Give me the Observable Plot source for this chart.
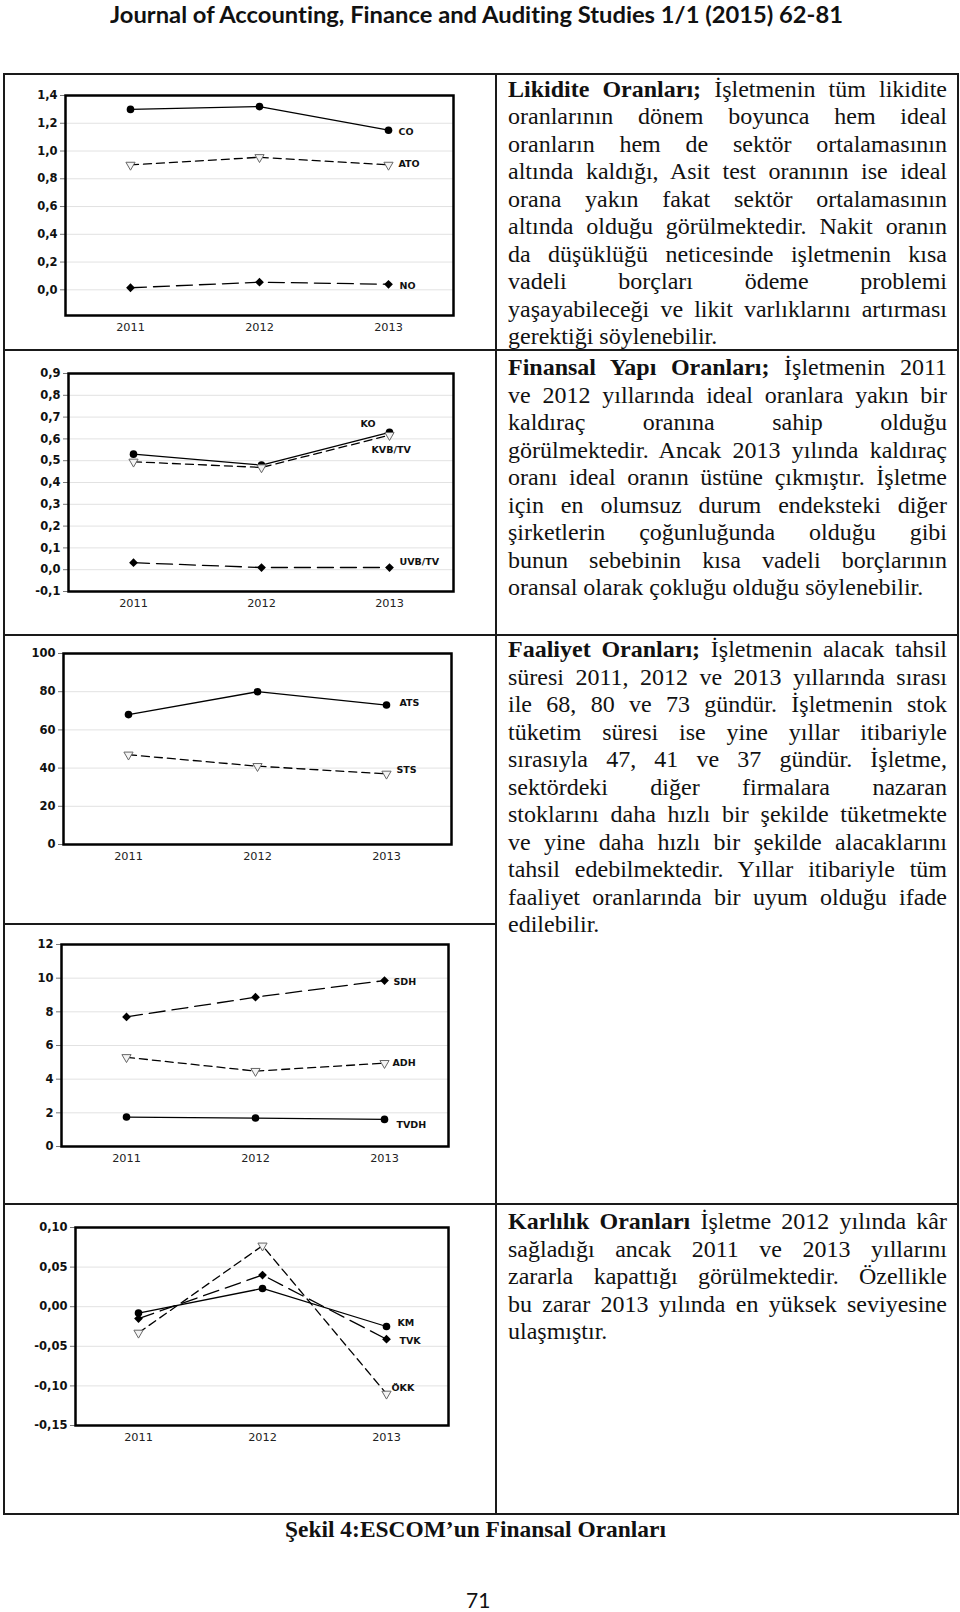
<!DOCTYPE html>
<html><head><meta charset="utf-8">
<script src="https://cdn.jsdelivr.net/npm/d3@7"></script>
<script src="https://cdn.jsdelivr.net/npm/@observablehq/plot@0.6"></script>
<style>
html,body{margin:0;padding:0;background:#fff;}
#page{position:relative;width:960px;height:1612px;overflow:hidden;background:#fff;}
.hl{position:absolute;height:2px;background:#1a1a1a;}
.vl{position:absolute;width:2px;background:#1a1a1a;}
.ln{position:absolute;left:508px;height:27.5px;line-height:27.5px;font-family:"Liberation Serif",serif;font-size:24px;white-space:nowrap;color:#111;}
.fit{display:inline-block;transform-origin:0 50%;white-space:nowrap;font-variant-ligatures:none;}
.chart{position:absolute;left:5px;}
.abs{position:absolute;white-space:nowrap;}
</style></head><body><div id="page"></div>
<script>
// ---------- DATA ----------
const years = ["2011", "2012", "2013"];
// Likidite oranları
const CO  = [1.30, 1.32, 1.15];
const ATO = [0.90, 0.955, 0.90];
const NO  = [0.015, 0.055, 0.04];
// Finansal yapı oranları
const KO     = [0.53, 0.48, 0.63];
const KVB_TV = [0.495, 0.469, 0.617];
const UVB_TV = [0.032, 0.010, 0.010];
// Faaliyet oranları
const ATS = [68, 80, 73];
const STS = [47, 41, 37];
const SDH  = [7.7, 8.87, 9.86];
const ADH  = [5.3, 4.48, 4.95];
const TVDH = [1.75, 1.69, 1.61];
// Karlılık oranları
const KM  = [-0.008, 0.023, -0.025];
const TVK = [-0.015, 0.040, -0.041];
const OKK = [-0.033, 0.077, -0.110];
// Tick values
const ticksLik  = [0, 0.2, 0.4, 0.6, 0.8, 1.0, 1.2, 1.4];
const ticksFin  = [-0.1, 0, 0.1, 0.2, 0.3, 0.4, 0.5, 0.6, 0.7, 0.8, 0.9];
const ticksATS  = [0, 20, 40, 60, 80, 100];
const ticksSDH  = [0, 2, 4, 6, 8, 10, 12];
const ticksKar  = [-0.15, -0.10, -0.05, 0, 0.05, 0.10];

// Texts
const headerText = "Journal of Accounting, Finance and Auditing Studies 1/1 (2015) 62-81";
const captionText = "Şekil 4:ESCOM’un Finansal Oranları";
const pageNumber = "71";
const para1 = [
 "<b>Likidite Oranları;</b> İşletmenin tüm likidite",
 "oranlarının dönem boyunca hem ideal",
 "oranların hem de sektör ortalamasının",
 "altında kaldığı, Asit test oranının ise ideal",
 "orana yakın fakat sektör ortalamasının",
 "altında olduğu görülmektedir. Nakit oranın",
 "da düşüklüğü neticesinde işletmenin kısa",
 "vadeli borçları ödeme problemi",
 "yaşayabileceği ve likit varlıklarını artırması",
 "gerektiği söylenebilir."];
const para2 = [
 "<b>Finansal Yapı Oranları;</b> İşletmenin 2011",
 "ve 2012 yıllarında ideal oranlara yakın bir",
 "kaldıraç oranına sahip olduğu",
 "görülmektedir. Ancak 2013 yılında kaldıraç",
 "oranı ideal oranın üstüne çıkmıştır. İşletme",
 "için en olumsuz durum endeksteki diğer",
 "şirketlerin çoğunluğunda olduğu gibi",
 "bunun sebebinin kısa vadeli borçlarının",
 "oransal olarak çokluğu olduğu söylenebilir."];
const para3 = [
 "<b>Faaliyet Oranları;</b> İşletmenin alacak tahsil",
 "süresi 2011, 2012 ve 2013 yıllarında sırası",
 "ile 68, 80 ve 73 gündür. İşletmenin stok",
 "tüketim süresi ise yine yıllar itibariyle",
 "sırasıyla 47, 41 ve 37 gündür. İşletme,",
 "sektördeki diğer firmalara nazaran",
 "stoklarını daha hızlı bir şekilde tüketmekte",
 "ve yine daha hızlı bir şekilde alacaklarını",
 "tahsil edebilmektedir. Yıllar itibariyle tüm",
 "faaliyet oranlarında bir uyum olduğu ifade",
 "edilebilir."];
const para4 = [
 "<b>Karlılık Oranları</b> İşletme 2012 yılında kâr",
 "sağladığı ancak 2011 ve 2013 yıllarını",
 "zararla kapattığı görülmektedir. Özellikle",
 "bu zarar 2013 yılında en yüksek seviyesine",
 "ulaşmıştır."];

// ---------- LAYOUT ----------
const page = document.getElementById("page");
function hl(x0, x1, y){ const d=document.createElement("div"); d.className="hl"; d.style.left=x0+"px"; d.style.width=(x1-x0)+"px"; d.style.top=(y-1)+"px"; page.appendChild(d); }
function vl(x, y0, y1){ const d=document.createElement("div"); d.className="vl"; d.style.left=(x-1)+"px"; d.style.top=y0+"px"; d.style.height=(y1-y0)+"px"; page.appendChild(d); }
const TL=4, TR=958, TD=496, TT=74, TB=1514;
hl(TL-1, TR+1, TT); hl(TL-1, TR+1, 350); hl(TL-1, TR+1, 635); hl(TL-1, TD, 924); hl(TL-1, TR+1, 1204); hl(TL-1, TR+1, TB);
vl(TL, TT-1, TB+1); vl(TD, TT-1, TB+1); vl(TR, TT-1, TB+1);

function fitText(text, opts){
  const d=document.createElement("div"); d.className="abs";
  d.style.left=opts.left+"px"; d.style.top=opts.top+"px";
  d.style.font=opts.font; d.style.color="#111"; d.style.lineHeight=opts.lh+"px";
  const s=document.createElement("span"); s.className="fit"; s.textContent=text; d.appendChild(s); page.appendChild(d);
  const w=s.getBoundingClientRect().width; s.style.transform=`scaleX(${opts.width/w})`;
}
fitText(headerText, {left:110, top:2, width:733, font:"bold 22px Lato, sans-serif", lh:26});
fitText(captionText, {left:285, top:1516, width:381, font:"bold 23px 'Liberation Serif', serif", lh:28});
{
  const d=document.createElement("div"); d.className="abs"; d.style.left="466px"; d.style.top="1587px";
  d.style.font="21px Lato, sans-serif"; d.style.lineHeight="26px"; d.style.color="#111"; d.textContent=pageNumber; page.appendChild(d);
}

function addPara(lines, firstBaseline){
  const target=439;
  lines.forEach((html,i)=>{
    const d=document.createElement("div"); d.className="ln";
    d.style.top=(firstBaseline-28+i*27.5)+"px";
    const s=document.createElement("span"); s.className="fit"; s.innerHTML=html; d.appendChild(s); page.appendChild(d);
    const w=s.getBoundingClientRect().width;
    const last=i===lines.length-1;
    if (w>target) s.style.transform=`scaleX(${target/w})`;
    else if(!last){ const n=(s.textContent.trim().match(/ +/g)||[]).length; if(n) s.style.wordSpacing=((target-w)/n)+"px"; }
  });
}
addPara(para1, 103.5);
addPara(para2, 382);
addPara(para3, 664);
addPara(para4, 1236);

// ---------- CHARTS ----------
const styles = {
  solid: {dash: null, symbol: "circle", fill: "#000", stroke: "none", r: 3.8, rotate: 0},
  long:  {dash: "16,7", symbol: "square", fill: "#000", stroke: "none", r: 3.5, rotate: 45},
  short: {dash: "8,5", symbol: "triangle", fill: "#f4f4f4", stroke: "#666", r: 3.4, rotate: 180}
};
function rows(values, name){ return years.map((y,i)=>({year:y, v:values[i], name})); }

const charts = [
  {top:75, h:274, frame:[65,95,453,315], domain:[-0.185,1.4], ticks:ticksLik, dec:1,
   series:[{name:"CO", values:CO, kind:"solid", dx:10, dy:2},
           {name:"ATO", values:ATO, kind:"short", dx:10, dy:-1},
           {name:"NO", values:NO, kind:"long", dx:11, dy:2}]},
  {top:351, h:283, frame:[68,373,453,591], domain:[-0.1,0.9], ticks:ticksFin, dec:1,
   series:[{name:"KO", values:KO, kind:"solid", dx:-29, dy:-8},
           {name:"KVB/TV", values:KVB_TV, kind:"short", dx:-18, dy:15},
           {name:"UVB/TV", values:UVB_TV, kind:"long", dx:10, dy:-6}]},
  {top:636, h:287, frame:[63,653,451,844], domain:[0,100], ticks:ticksATS, dec:0,
   series:[{name:"ATS", values:ATS, kind:"solid", dx:13, dy:-2},
           {name:"STS", values:STS, kind:"short", dx:10, dy:-4}]},
  {top:925, h:278, frame:[61,944,448,1146], domain:[0,12], ticks:ticksSDH, dec:0,
   series:[{name:"SDH", values:SDH, kind:"long", dx:9, dy:1},
           {name:"ADH", values:ADH, kind:"short", dx:8, dy:0},
           {name:"TVDH", values:TVDH, kind:"solid", dx:12, dy:6}]},
  {top:1205, h:308, frame:[75,1227,448,1425], domain:[-0.15,0.10], ticks:ticksKar, dec:2,
   series:[{name:"KM", values:KM, kind:"solid", dx:11, dy:-4},
           {name:"TVK", values:TVK, kind:"long", dx:13, dy:2},
           {name:"ÖKK", values:OKK, kind:"short", dx:5, dy:-6}]}
];

charts.forEach(c=>{
  const [fx0, fy0, fx1, fy1] = c.frame;
  const fmt = d => c.dec===0 ? String(d) : d.toFixed(c.dec).replace(".", ",");
  const marks = [
    Plot.ruleY(c.ticks.filter(t=>t>c.domain[0]+1e-9 && t<c.domain[1]-1e-9), {stroke:"#e2e2e2", strokeWidth:1}),
    Plot.axisY(c.ticks, {tickFormat:fmt, fontWeight:"bold", fontSize:11.5, tickSize:5, tickPadding:3, label:null, fill:"#111", stroke:"#777"}),
    Plot.axisX(years, {tickSize:0, tickPadding:7, fontSize:11.3, label:null, fill:"#222"})
  ];
  c.series.forEach(s=>{
    const st=styles[s.kind]; const data=rows(s.values, s.name);
    marks.push(Plot.line(data, {x:"year", y:"v", stroke:"#000", strokeWidth:1.3, strokeDasharray:st.dash}));
  });
  c.series.forEach(s=>{
    const st=styles[s.kind]; const data=rows(s.values, s.name);
    marks.push(Plot.dot(data, {x:"year", y:"v", symbol:st.symbol, r:st.r, fill:st.fill, stroke:st.stroke, strokeWidth:1, rotate:st.rotate}));
    marks.push(Plot.text(data.slice(-1), {x:"year", y:"v", text:"name", dx:s.dx, dy:s.dy, textAnchor:"start", fontWeight:"bold", fontSize:9.5, fill:"#111"}));
  });
  marks.push(Plot.frame({stroke:"#000", strokeWidth:2.5}));
  const svg = Plot.plot({
    width:490, height:c.h,
    marginLeft:fx0-5, marginRight:495-fx1, marginTop:fy0-c.top, marginBottom:c.top+c.h-fy1,
    x:{type:"point", domain:years, padding:0.5},
    y:{domain:c.domain},
    style:{fontFamily:"'DejaVu Sans', Arial, sans-serif", background:"transparent", overflow:"visible"},
    marks
  });
  svg.classList.add("chart"); svg.style.top=c.top+"px"; svg.style.position="absolute"; svg.style.left="5px";
  page.appendChild(svg);
});
</script></body></html>
